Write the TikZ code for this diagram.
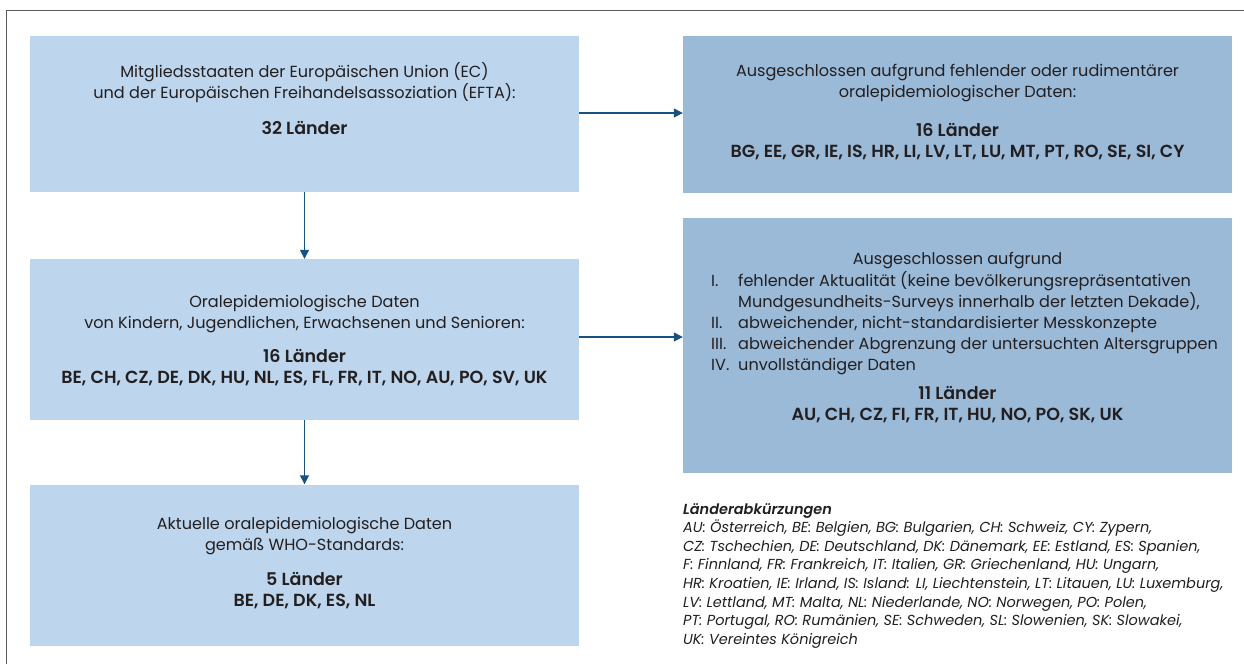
\documentclass[tikz,border=0pt]{standalone}
\usepackage{fontspec}
\setmainfont{Poppins}[BoldFont={Poppins SemiBold},BoldItalicFont={Poppins SemiBold Italic}]
\usetikzlibrary{arrows.meta}
\definecolor{boxL}{RGB}{189,214,237}
\definecolor{boxR}{RGB}{155,186,216}
\definecolor{arr}{RGB}{24,82,128}
\definecolor{txt}{RGB}{35,31,32}
\definecolor{frame}{RGB}{90,90,90}
\tikzset{
  lbox/.style={draw=none,fill=boxL,minimum width=549pt,minimum height=#1,inner sep=0pt},
  rbox/.style={draw=none,fill=boxR,minimum width=549pt,minimum height=#1,inner sep=0pt},
  conn/.style={draw=arr,line width=1.4pt,-{Triangle[length=9pt,width=9pt]}},
  body/.style={text=txt,font=\fontsize{16.1}{21}\selectfont,align=center,inner sep=0pt},
  bold/.style={text=txt,font=\fontsize{17.5}{21}\selectfont\bfseries,align=center,inner sep=0pt},
  legend/.style={text=txt,font=\fontsize{14.5}{18.6}\selectfont\itshape,align=left,inner sep=0pt,anchor=north west}
}
\begin{document}
\begin{tikzpicture}[x=1pt,y=-1pt]
\useasboundingbox[fill=white] (0,0) rectangle (1244,664);
\draw[frame,line width=1.6pt] (6.5,664) -- (6.5,10.5) -- (1244,10.5);
% boxes
\node[lbox=156pt] (b1) at (304.5,114) {};
\node[lbox=161pt] (b2) at (304.5,339.5) {};
\node[lbox=161pt] (b3) at (304.5,565) {};
\node[rbox=157pt] (r1) at (957.5,114.5) {};
\node[rbox=255pt] (r2) at (957.5,345) {};
% texts
\node[body] (t1) at (304.5,83) {Mitgliedsstaaten der Europäischen Union (EC)\\und der Europäischen Freihandelsassoziation (EFTA):};
\node[bold] (t1b) at (304.5,128) {32 Länder};
\node[body] (t2) at (304.5,314) {Oralepidemiologische Daten\\von Kindern, Jugendlichen, Erwachsenen und Senioren:};
\node[bold] (t2b) at (304.5,368) {16 Länder\\BE, CH, CZ, DE, DK, HU, NL, ES, FL, FR, IT, NO, AU, PO, SV, UK};
\node[body] (t3) at (304.5,536.5) {Aktuelle oralepidemiologische Daten\\gemäß WHO-Standards:};
\node[bold] (t3b) at (304.5,591) {5 Länder\\BE, DE, DK, ES, NL};
\node[body] (tr1) at (957.5,83.5) {Ausgeschlossen aufgrund fehlender oder rudimentärer\\oralepidemiologischer Daten:};
\node[bold] (tr1b) at (957.5,141.5) {16 Länder\\BG, EE, GR, IE, IS, HR, LI, LV, LT, LU, MT, PT, RO, SE, SI, CY};
\node[body] (tr2) at (957.5,261) {Ausgeschlossen aufgrund};
\node[body,anchor=north west,align=left] (tr2l) at (711,271) {%
\begin{tabular}{@{}p{27pt}@{}l@{}}
I. & fehlender Aktualität (keine bevölkerungsrepräsentativen\\
   & Mundgesundheits-Surveys innerhalb der letzten Dekade),\\
II. & abweichender, nicht-standardisierter Messkonzepte\\
III. & abweichender Abgrenzung der untersuchten Altersgruppen\\
IV. & unvollständiger Daten
\end{tabular}};
\node[bold] (tr2b) at (957.5,405) {11 Länder\\AU, CH, CZ, FI, FR, IT, HU, NO, PO, SK, UK};
% legend
\node[legend] (leg) at (683,503) {{\bfseries Länderabkürzungen}\\
AU: Österreich, BE: Belgien, BG: Bulgarien, CH: Schweiz, CY: Zypern,\\
CZ: Tschechien, DE: Deutschland, DK: Dänemark, EE: Estland, ES: Spanien,\\
F: Finnland, FR: Frankreich, IT: Italien, GR: Griechenland, HU: Ungarn,\\
HR: Kroatien, IE: Irland, IS: Island: LI, Liechtenstein, LT: Litauen, LU: Luxemburg,\\
LV: Lettland, MT: Malta, NL: Niederlande, NO: Norwegen, PO: Polen,\\
PT: Portugal, RO: Rumänien, SE: Schweden, SL: Slowenien, SK: Slowakei,\\
UK: Vereintes Königreich};
% connectors
\draw[conn] (b1) -- (b2);
\draw[conn] (b2) -- (b3);
\draw[conn] (b1.east |- 0,113) -- (r1.west |- 0,113);
\draw[conn] (b2.east |- 0,337) -- (r2.west |- 0,337);
\end{tikzpicture}
\end{document}
